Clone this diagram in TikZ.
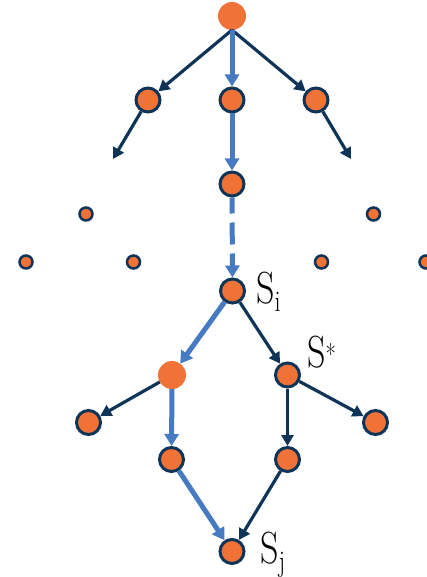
\documentclass[tikz,border=0pt]{standalone}
\usepackage{graphicx}
\usetikzlibrary{arrows.meta}
\definecolor{orng}{RGB}{240,114,54}
\definecolor{navy}{RGB}{14,52,88}
\definecolor{lblue}{RGB}{70,122,194}
\newcommand{\bigS}[1]{\scalebox{0.8}[1]{\fontsize{45}{50}\selectfont S#1}}
\newcommand{\lowtxt}[1]{\raisebox{-8pt}{\fontsize{30}{30}\selectfont #1}}
\newcommand{\hightxt}[1]{\raisebox{3pt}{\fontsize{28}{28}\selectfont #1}}
\begin{document}
\begin{tikzpicture}[x=1pt,y=-1pt,
 st/.style={circle,fill=orng,draw=navy,line width=3pt,minimum size=24pt,inner sep=0pt},
 sm/.style={circle,fill=orng,draw=navy,line width=2.5pt,minimum size=13pt,inner sep=0pt},
 act/.style={circle,fill=orng,minimum size=28pt,inner sep=0pt,outer sep=0pt},
 dk/.style={draw=navy,line width=3.2pt,-{Triangle[length=11pt,width=12pt]}},
 bl/.style={draw=lblue,line width=5pt,-{Triangle[length=12pt,width=14pt]}},
 lab/.style={anchor=base west,inner sep=0pt}]
\useasboundingbox (0,0) rectangle (427,577);
% nodes
\node[act] (root) at (232,16) {};
\node[st] (a1) at (148,100) {};
\node[st] (a2) at (232,100) {};
\node[st] (a3) at (316,100) {};
\node[st] (b2) at (232,184) {};
\coordinate (e1) at (113,159);
\coordinate (e3) at (351,159);
\node[sm] (d1) at (86,214) {};
\node[sm] (d2) at (373.5,214) {};
\node[sm] (d3) at (26,262) {};
\node[sm] (d4) at (133.5,262) {};
\node[sm] (d5) at (321.5,262) {};
\node[sm] (d6) at (426,262) {};
\node[st] (si) at (232.5,291) {};
\node[act] (c1) at (172,375) {};
\node[st] (ss) at (287.5,375) {};
\node[st] (l1) at (88.5,422.5) {};
\node[st] (l2) at (171.5,459.5) {};
\node[st] (l3) at (287.5,459.5) {};
\node[st] (l4) at (375.5,422.5) {};
\node[st] (sj) at (232,551.5) {};
% labels
\node[lab] (tsi) at (256,303) {\bigS{\lowtxt{i}}};
\node[lab] (tss) at (307,367) {\bigS{\hightxt{*}}};
\node[lab] (tsj) at (260,563) {\bigS{\lowtxt{j}}};
% edges
\draw[dk] (root.south) -- (a1);
\draw[dk] (root.south) -- (a3);
\draw[bl] (root) -- (a2);
\draw[bl] (a2) -- (b2);
\draw[dk] (a1) -- (e1);
\draw[dk] (a3) -- (e3);
\draw[bl,dash pattern=on 22pt off 9pt,dash phase=6pt] (b2) -- (si);
\draw[bl] (si) -- (c1);
\draw[dk] (si) -- (ss);
\draw[dk] (c1) -- (l1);
\draw[bl] (c1) -- (l2);
\draw[dk] (ss) -- (l3);
\draw[dk] (ss) -- (l4);
\draw[bl] (l2) -- (sj);
\draw[dk] (l3) -- (sj);
\end{tikzpicture}
\end{document}
